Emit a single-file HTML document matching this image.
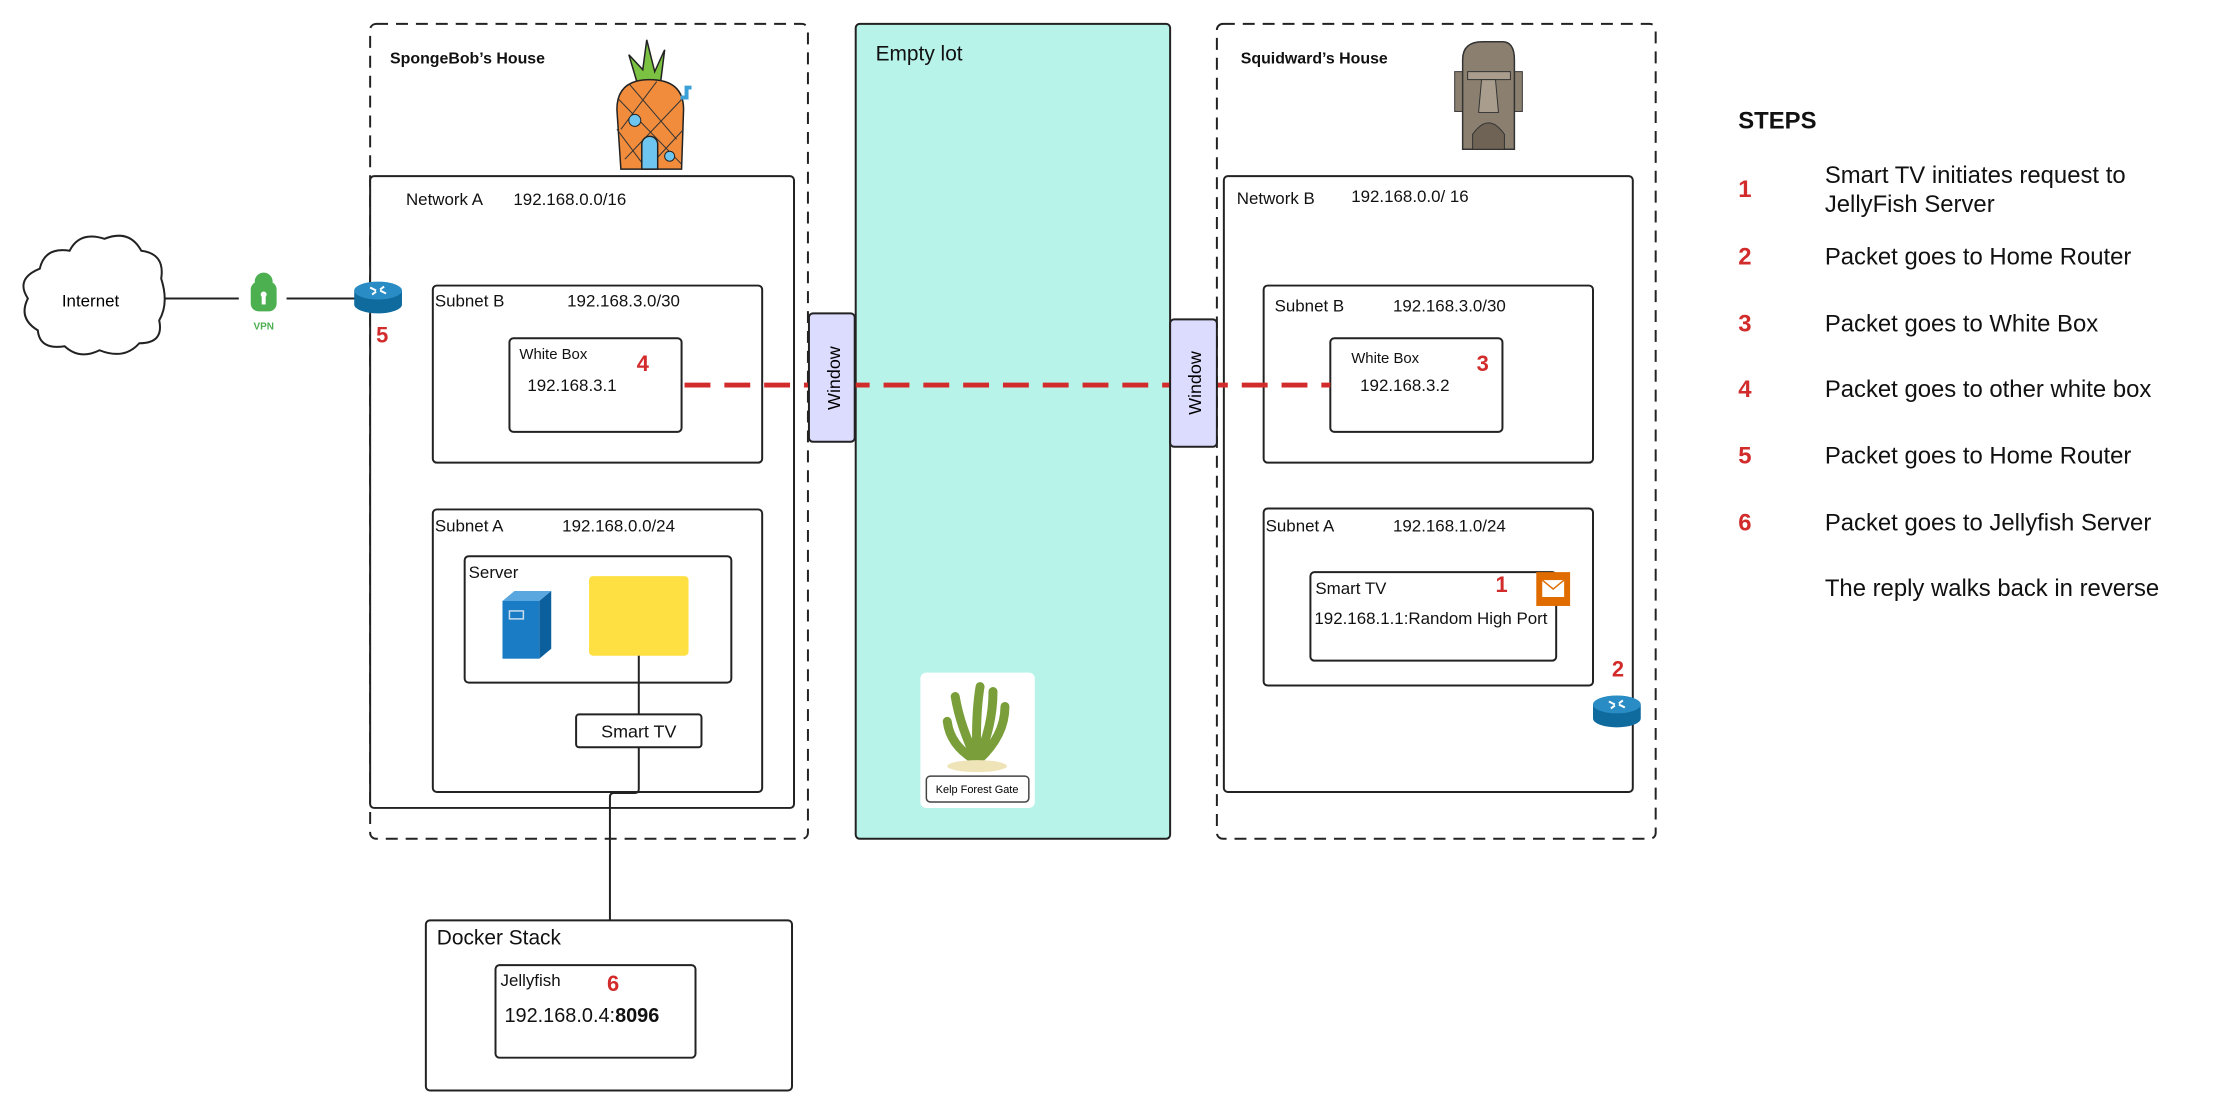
<!DOCTYPE html>
<html><head><meta charset="utf-8"><style>
html,body{margin:0;padding:0;background:#fff;}
svg{display:block;font-family:"Liberation Sans",sans-serif;}
</style></head><body>
<svg width="2226" height="1118" viewBox="0 0 2226 1118" xmlns="http://www.w3.org/2000/svg">
<g transform="scale(0.995)">
<g fill="none" stroke="#222" stroke-width="2">
<rect x="372" y="24" width="440" height="819" rx="6" stroke-dasharray="12,8"/>
<rect x="1223" y="24" width="441" height="819" rx="6" stroke-dasharray="12,8"/>
</g>
<rect x="860" y="24" width="316" height="819" rx="4" fill="#b8f3ea" stroke="#222" stroke-width="2"/>
<g fill="#fff" stroke="#222" stroke-width="2">
<rect x="372" y="177" width="426" height="635" rx="4"/>
<rect x="435" y="287" width="331" height="178" rx="4"/>
<rect x="512" y="340" width="173" height="94" rx="4"/>
<rect x="435" y="512" width="331" height="284" rx="4"/>
<rect x="467" y="559" width="268" height="127" rx="4"/>
<rect x="579" y="718" width="126" height="33" rx="3"/>
<rect x="428" y="925" width="368" height="171" rx="4"/>
<rect x="498" y="970" width="201" height="93" rx="4"/>
<rect x="1230" y="177" width="411" height="619" rx="4"/>
<rect x="1270" y="287" width="331" height="178" rx="4"/>
<rect x="1337" y="340" width="173" height="94" rx="4"/>
<rect x="1270" y="511" width="331" height="178" rx="4"/>
<rect x="1317" y="575" width="247" height="89" rx="4"/>
</g>
<rect x="592" y="579" width="100" height="80" rx="4" fill="#ffe043"/>
<polygon points="505,604 542,604 554,594 517,594" fill="#5aa7e0"/>
<polygon points="542,604 554,594 554,652 542,662" fill="#0b5f9c"/>
<rect x="505" y="604" width="37" height="58" fill="#1a7cc4"/>
<rect x="512" y="614" width="14" height="8" fill="none" stroke="#cde" stroke-width="1.5"/>
<g stroke="#222" stroke-width="2" fill="none">
<path d="M642 659 V718"/>
<path d="M642 751 V793 Q642 797 638 797 H617 Q613 797 613 801 V925"/>
<path d="M166 300 H240"/>
<path d="M288 300 H362"/>
</g>
<path d="M688 387 H1337" stroke="#d22b2b" stroke-width="5" stroke-dasharray="26,14"/>
<rect x="813" y="315" width="46" height="129" rx="4" fill="#dcdcff" stroke="#222" stroke-width="2"/>
<rect x="1176" y="321" width="47" height="128" rx="4" fill="#dcdcff" stroke="#222" stroke-width="2"/>
<text transform="translate(844,380) rotate(-90)" text-anchor="middle" font-size="18">Window</text>
<text transform="translate(1207,385) rotate(-90)" text-anchor="middle" font-size="18">Window</text>
<path d="M40 270 Q45 248 70 252 Q80 232 105 240 Q130 230 142 252 Q166 255 162 280 Q170 305 160 322 Q165 345 140 345 Q125 362 100 352 Q80 362 65 348 Q40 352 38 332 Q18 320 28 300 Q15 280 40 270 Z" fill="#fff" stroke="#222" stroke-width="2"/>
<text x="91" y="308" text-anchor="middle" font-size="17">Internet</text>
<rect x="252" y="283" width="26" height="30" rx="8" fill="#4caf50"/>
<circle cx="265" cy="283" r="9" fill="#4caf50"/>
<circle cx="265" cy="296" r="3" fill="#fff"/>
<rect x="263" y="297" width="4" height="9" fill="#fff"/>
<text x="265" y="331" text-anchor="middle" font-size="10" fill="#4caf50" font-weight="bold">VPN</text>
<g>
<path d="M356 292 v14 a24 9 0 0 0 48 0 v-14 z" fill="#0f6a9e"/>
<ellipse cx="380" cy="292" rx="24" ry="9" fill="#2a8cc4"/>
<path d="M372 289 l6 3 M388 295 l-6 -3 M386 288 l-4 3 M374 296 l4 -3" stroke="#fff" stroke-width="2"/>
</g>
<g>
<path d="M1601 708 v14 a24 9 0 0 0 48 0 v-14 z" fill="#0f6a9e"/>
<ellipse cx="1625" cy="708" rx="24" ry="9" fill="#2a8cc4"/>
<path d="M1617 705 l6 3 M1633 711 l-6 -3 M1631 704 l-4 3 M1619 712 l4 -3" stroke="#fff" stroke-width="2"/>
</g>
<rect x="1544" y="575" width="34" height="34" fill="#e06c00"/>
<rect x="1550" y="583" width="22" height="17" fill="#fff"/>
<path d="M1550 583 l11 9 l11 -9" stroke="#e06c00" stroke-width="1.5" fill="none"/>
<g>
<path d="M640 82 L632 55 L646 70 L650 40 L658 72 L668 50 L664 82 Z" fill="#7cc242" stroke="#222" stroke-width="1.5"/>
<path d="M624 170 L620 110 Q620 80 653 80 Q687 80 687 110 L685 170 Z" fill="#f08c3c" stroke="#222" stroke-width="1.5"/>
<path d="M624 130 L660 82 M628 160 L685 100 M650 170 L687 130 M622 100 L685 165 M632 84 L680 140 M620 130 L650 170" stroke="#333" stroke-width="1" fill="none"/>
<path d="M684 98 h6 v-10 h5" stroke="#3ba0d8" stroke-width="4" fill="none"/>
<path d="M645 170 v-25 a8 8 0 0 1 16 0 v25 z" fill="#6ec5ef" stroke="#222" stroke-width="1.5"/>
<circle cx="638" cy="121" r="6" fill="#6ec5ef" stroke="#222"/>
<circle cx="673" cy="157" r="5" fill="#6ec5ef" stroke="#222"/>
</g>
<g>
<rect x="1462" y="72" width="10" height="40" fill="#8b8070" stroke="#333"/>
<rect x="1520" y="72" width="10" height="40" fill="#8b8070" stroke="#333"/>
<path d="M1470 150 V60 Q1470 42 1490 42 H1510 Q1522 42 1522 60 V150 Z" fill="#8b8070" stroke="#333" stroke-width="1.5"/>
<rect x="1475" y="72" width="43" height="8" fill="#a99e8e" stroke="#333"/>
<polygon points="1489,80 1503,80 1506,113 1486,113" fill="#a99e8e" stroke="#333"/>
<path d="M1480 150 V135 Q1496 112 1512 135 V150 Z" fill="#6e6354" stroke="#333"/>
</g>
<rect x="925" y="676" width="115" height="136" rx="6" fill="#fff"/>
<path d="M982 765 Q965 730 960 700 M982 765 Q980 720 985 690 M982 765 Q998 730 998 695 M982 765 Q1010 740 1010 710 M982 765 Q955 750 952 725" stroke="#7a9e3a" stroke-width="9" fill="none" stroke-linecap="round"/>
<ellipse cx="982" cy="770" rx="30" ry="6" fill="#efe3b8"/>
<rect x="931" y="780" width="103" height="26" rx="4" fill="#fff" stroke="#444" stroke-width="1.5"/>
<text x="982" y="797" text-anchor="middle" font-size="11">Kelp Forest Gate</text>
<g font-size="17" fill="#111">
<text x="392" y="64" font-weight="bold" font-size="16">SpongeBob’s  House</text>
<text x="1247" y="64" font-weight="bold" font-size="16">Squidward’s House</text>
<text x="880" y="61" font-size="21">Empty lot</text>
<text x="408" y="206">Network A</text><text x="516" y="206">192.168.0.0/16</text>
<text x="437" y="308">Subnet B</text><text x="570" y="308">192.168.3.0/30</text>
<text x="522" y="361" font-size="15">White Box</text>
<text x="530" y="393">192.168.3.1</text>
<text x="437" y="534">Subnet A</text><text x="565" y="534">192.168.0.0/24</text>
<text x="471" y="581">Server</text>
<text x="642" y="741" text-anchor="middle" font-size="18">Smart TV</text>
<text x="439" y="949" font-size="21">Docker Stack</text>
<text x="503" y="991">Jellyfish</text>
<text x="507" y="1027" font-size="20">192.168.0.4:<tspan font-weight="bold">8096</tspan></text>
<text x="1243" y="205">Network  B</text><text x="1358" y="203">192.168.0.0/ 16</text>
<text x="1281" y="313">Subnet B</text><text x="1400" y="313">192.168.3.0/30</text>
<text x="1358" y="365" font-size="15">White Box</text>
<text x="1367" y="393">192.168.3.2</text>
<text x="1272" y="534">Subnet A</text><text x="1400" y="534">192.168.1.0/24</text>
<text x="1322" y="597">Smart TV</text>
<text x="1321" y="627">192.168.1.1:Random High Port</text>
</g>
<g fill="#d22b2b" font-weight="bold" font-size="22">
<text x="378" y="344">5</text>
<text x="640" y="373">4</text>
<text x="1484" y="373">3</text>
<text x="1503" y="595">1</text>
<text x="1620" y="680">2</text>
<text x="610" y="996">6</text>
</g>
<g font-size="24" fill="#111">
<text x="1747" y="129" font-weight="bold">STEPS</text>
<text x="1834" y="184">Smart TV initiates request to</text>
<text x="1834" y="213">JellyFish Server</text>
<text x="1834" y="266">Packet goes to Home Router</text>
<text x="1834" y="333">Packet goes to White Box</text>
<text x="1834" y="399">Packet goes to other white box</text>
<text x="1834" y="466">Packet goes to Home Router</text>
<text x="1834" y="533">Packet goes to Jellyfish Server</text>
<text x="1834" y="599">The reply walks back in reverse</text>
</g>
<g fill="#d22b2b" font-weight="bold" font-size="24">
<text x="1747" y="198">1</text>
<text x="1747" y="266">2</text>
<text x="1747" y="333">3</text>
<text x="1747" y="399">4</text>
<text x="1747" y="466">5</text>
<text x="1747" y="533">6</text>
</g>
</g>
</svg>
</body></html>
